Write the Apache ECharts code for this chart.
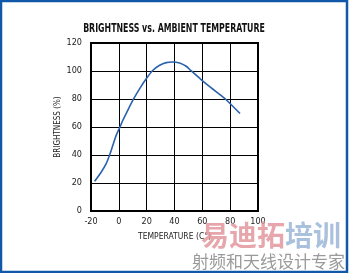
<!DOCTYPE html>
<html><head><meta charset="utf-8">
<script src="https://cdn.jsdelivr.net/npm/echarts@6/dist/echarts.min.js"></script>
<style>html,body{margin:0;padding:0;background:#fff}#c{width:349px;height:273px}</style>
</head><body><div id="c"></div>
<script>
const titleText = 'BRIGHTNESS vs. AMBIENT TEMPERATURE';
const xName = 'TEMPERATURE (C°)';
const yName = 'BRIGHTNESS (%)';
const temperature = [-17.4, -12.6, -9.1, -6.7, -4.3, -1.9, 0.5, 2.9, 6.4, 10, 15, 19.8, 24.5, 29.3, 34.1, 38.8, 43.6, 48.4, 51.9, 59.1, 66.2, 73.4, 78.1, 87.1];
const brightness  = [21.2, 27.9, 33.8, 39.8, 46.9, 54, 59.3, 64.8, 71.9, 79, 87.4, 94.6, 100.5, 104.1, 106, 106.4, 105.7, 103.4, 100.2, 93.9, 88.1, 82.6, 78.6, 69.6];
const watermarkMain = ['易迪拓', '培训'];
const watermarkSub = '射频和天线设计专家';

const narrow = '"DejaVu Sans Condensed", "Liberation Sans", sans-serif';
const chart = echarts.init(document.getElementById('c'), null, {renderer: 'canvas'});
chart.setOption({
  animation: false,
  backgroundColor: '#ffffff',
  grid: {left: 91, top: 43, width: 167, height: 168, show: true, borderColor: '#000', borderWidth: 2, backgroundColor: 'transparent'},
  xAxis: {
    type: 'value', min: -20, max: 100, interval: 20,
    name: xName, nameLocation: 'middle', nameGap: 21,
    nameTextStyle: {fontFamily: narrow, fontSize: 8.5, color: '#222'},
    axisLine: {show: false}, axisTick: {show: false},
    axisLabel: {fontFamily: narrow, fontSize: 9, color: '#222', margin: 6},
    splitLine: {show: true, lineStyle: {color: '#000', width: 1}}
  },
  yAxis: {
    type: 'value', min: 0, max: 120, interval: 20,
    name: yName, nameLocation: 'middle', nameGap: 29,
    nameTextStyle: {fontFamily: narrow, fontSize: 8, color: '#222'},
    axisLine: {show: false}, axisTick: {show: false},
    axisLabel: {fontFamily: narrow, fontSize: 9, color: '#222', margin: 9},
    splitLine: {show: true, lineStyle: {color: '#000', width: 1}}
  },
  series: [{
    type: 'line', data: temperature.map((t, i) => [t, brightness[i]]),
    smooth: 0.25, showSymbol: false,
    lineStyle: {color: '#2b62ad', width: 1.6}
  }],
  graphic: [
    {type: 'text', x: 174, y: 29, scaleX: 0.76, z: 60,
     style: {text: titleText, font: 'bold 11.5px "DejaVu Sans Condensed"', fill: '#111', align: 'center', verticalAlign: 'middle'}},
    {type: 'rect', shape: {x: 1, y: 1, width: 346, height: 271}, style: {fill: 'none', stroke: '#1158a8', lineWidth: 2.5}, z: 100},
    {type: 'text', left: 201, top: 221, z: 50, style: {text: watermarkMain[0], font: 'bold 28px "Noto Sans CJK SC"', fill: 'rgba(226,150,156,0.85)'}},
    {type: 'text', left: 285, top: 221, z: 50, style: {text: watermarkMain[1], font: 'bold 28px "Noto Sans CJK SC"', fill: 'rgba(155,182,216,0.85)'}},
    {type: 'text', left: 192, top: 253, z: 50, style: {text: watermarkSub, font: '17px "Noto Sans CJK SC"', fill: '#9a9a9a'}}
  ]
});
</script></body></html>
